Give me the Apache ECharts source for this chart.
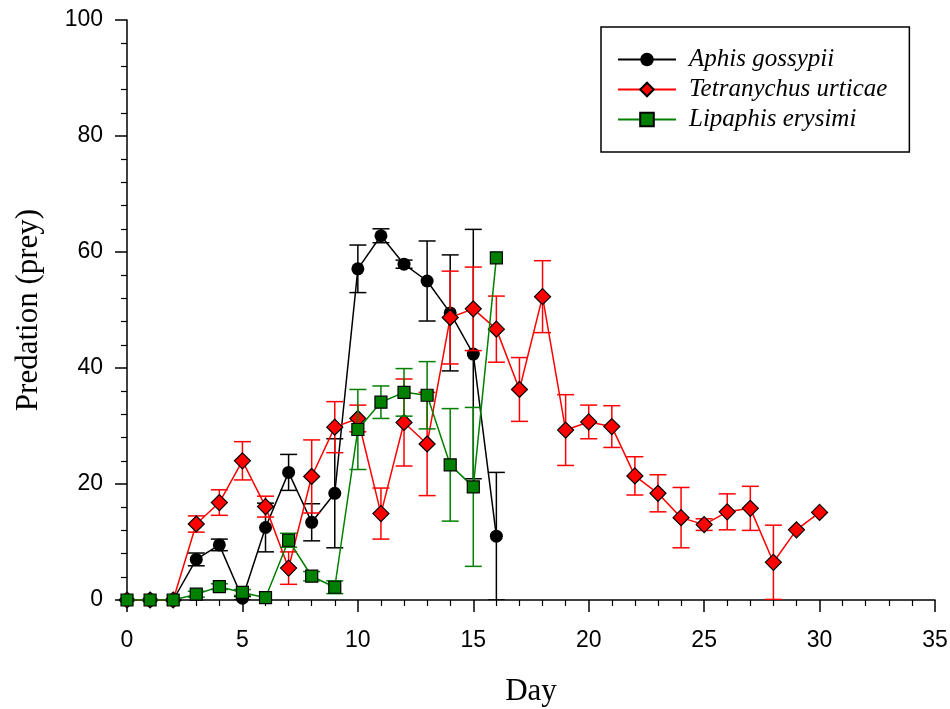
<!DOCTYPE html>
<html>
<head>
<meta charset="utf-8">
<script src="https://cdn.jsdelivr.net/npm/echarts@6/dist/echarts.min.js"></script>
<style>html,body{margin:0;padding:0;background:#fff;}#c{width:950px;height:709px;}</style>
</head>
<body>
<div id="c"></div>
<script>
const seriesNames = ['Aphis gossypii', 'Tetranychus urticae', 'Lipaphis erysimi'];
const aphisDays = [0,1,2,3,4,5,6,7,8,9,10,11,12,13,14,15,16];
const aphisMean = [0,0,0,7.0,9.5,0.3,12.5,22.0,13.4,18.4,57.1,62.8,57.9,55.0,49.5,42.4,11.0];
const aphisErr  = [0,0,0,1.1,1.0,0.3,4.2,3.1,3.2,9.4,4.1,1.2,0.7,6.9,10.0,21.5,11.0];
const tetraDays = [0,1,2,3,4,5,6,7,8,9,10,11,12,13,14,15,16,17,18,19,20,21,22,23,24,25,26,27,28,29,30];
const tetraMean = [0,0,0,13.1,16.8,24.0,16.1,5.5,21.3,29.8,31.3,14.9,30.6,26.9,48.7,50.2,46.7,36.3,52.3,29.3,30.7,29.9,21.4,18.4,14.2,13.0,15.2,15.8,6.5,12.1,15.1];
const tetraErr  = [0,0,0,1.4,2.2,3.3,1.8,2.8,6.3,4.4,2.3,4.4,7.5,8.9,8.0,7.2,5.7,5.5,6.2,6.1,2.9,3.6,3.3,3.2,5.2,1.0,3.1,3.8,6.4,0,0];
const lipaDays = [0,1,2,3,4,5,6,7,8,9,10,11,12,13,14,15,16];
const lipaMean = [0,0,0,1.0,2.3,1.3,0.4,10.3,4.1,2.2,29.4,34.1,35.8,35.3,23.3,19.5,59.0];
const lipaErr  = [0,0,0,0.5,0.5,0.5,0,1.2,0.8,1.1,6.9,2.8,4.1,5.8,9.7,13.7,0];

const colors = ['#000000', '#ff0000', '#008000'];
const symbols = ['circle', 'diamond', 'rect'];
const symSizes = [13, 16, 12];

function pts(days, mean){ return days.map((d,i)=>[d, mean[i]]); }
function errData(days, mean, err){
  const out = [];
  days.forEach((d,i)=>{ if(err[i]>0) out.push([d, Math.max(0, mean[i]-err[i]), mean[i]+err[i]]); });
  return out;
}
function errSeries(data, color, z){
  return {
    type:'custom', z:z, silent:true, clip:true,
    encode:{x:0, y:[1,2]},
    data:data,
    renderItem:function(params, api){
      const x=api.value(0), lo=api.value(1), hi=api.value(2);
      const a=api.coord([x,hi]), b=api.coord([x,lo]);
      const w=8.5;
      const st={stroke:color, lineWidth:1.5};
      return {type:'group', children:[
        {type:'line', shape:{x1:a[0],y1:a[1],x2:b[0],y2:b[1]}, style:st},
        {type:'line', shape:{x1:a[0]-w,y1:a[1],x2:a[0]+w,y2:a[1]}, style:st},
        {type:'line', shape:{x1:b[0]-w,y1:b[1],x2:b[0]+w,y2:b[1]}, style:st}
      ]};
    }
  };
}
function lineSeries(idx, data, z){
  return {
    name:seriesNames[idx], type:'line', z:z, data:data,
    symbol:symbols[idx], symbolSize:symSizes[idx], showAllSymbol:true,
    lineStyle:{color:colors[idx], width:1.5},
    itemStyle:{color:colors[idx], borderColor:'#000', borderWidth: idx===0?0:1.2},
    emphasis:{disabled:true}, animation:false
  };
}

const chart = echarts.init(document.getElementById('c'));
chart.setOption({
  animation:false,
  backgroundColor:'#fff',
  grid:{left:127, right:15, top:20, bottom:109, containLabel:false, outerBoundsMode:'none'},
  legend:{
    data:seriesNames, orient:'vertical', left:601, top:27,
    itemWidth:58, itemHeight:17, itemGap:5,
    padding:[20, 22, 20, 16],
    borderColor:'#000', borderWidth:1.5, backgroundColor:'#fff',
    textStyle:{fontFamily:'Liberation Serif', fontStyle:'italic', fontSize:25, color:'#000', padding:[0,0,0,8]}
  },
  xAxis:{
    type:'value', min:0, max:35, interval:5,
    name:'Day', nameLocation:'middle', nameGap:76,
    nameTextStyle:{fontFamily:'Liberation Serif', fontSize:31, color:'#000'},
    axisLine:{show:true, onZero:false, lineStyle:{color:'#000', width:1.5}},
    axisTick:{show:true, length:12, lineStyle:{color:'#000', width:1.5}},
    minorTick:{show:true, splitNumber:5, length:6, lineStyle:{color:'#000', width:1.2}},
    splitLine:{show:false},
    axisLabel:{fontFamily:'Liberation Sans', fontSize:23, color:'#000', margin:29}
  },
  yAxis:{
    type:'value', min:0, max:100, interval:20,
    name:'Predation (prey)', nameLocation:'middle', nameGap:83,
    nameTextStyle:{fontFamily:'Liberation Serif', fontSize:31, color:'#000'},
    axisLine:{show:true, onZero:false, lineStyle:{color:'#000', width:1.5}},
    axisTick:{show:true, length:12, lineStyle:{color:'#000', width:1.5}},
    minorTick:{show:true, splitNumber:5, length:6, lineStyle:{color:'#000', width:1.2}},
    splitLine:{show:false},
    axisLabel:{fontFamily:'Liberation Sans', fontSize:23, color:'#000', margin:24}
  },
  series:[
    errSeries(errData(aphisDays, aphisMean, aphisErr), colors[0], 1),
    lineSeries(0, pts(aphisDays, aphisMean), 2),
    errSeries(errData(tetraDays, tetraMean, tetraErr), colors[1], 3),
    lineSeries(1, pts(tetraDays, tetraMean), 4),
    errSeries(errData(lipaDays, lipaMean, lipaErr), colors[2], 5),
    lineSeries(2, pts(lipaDays, lipaMean), 6)
  ]
});
</script>
</body>
</html>
